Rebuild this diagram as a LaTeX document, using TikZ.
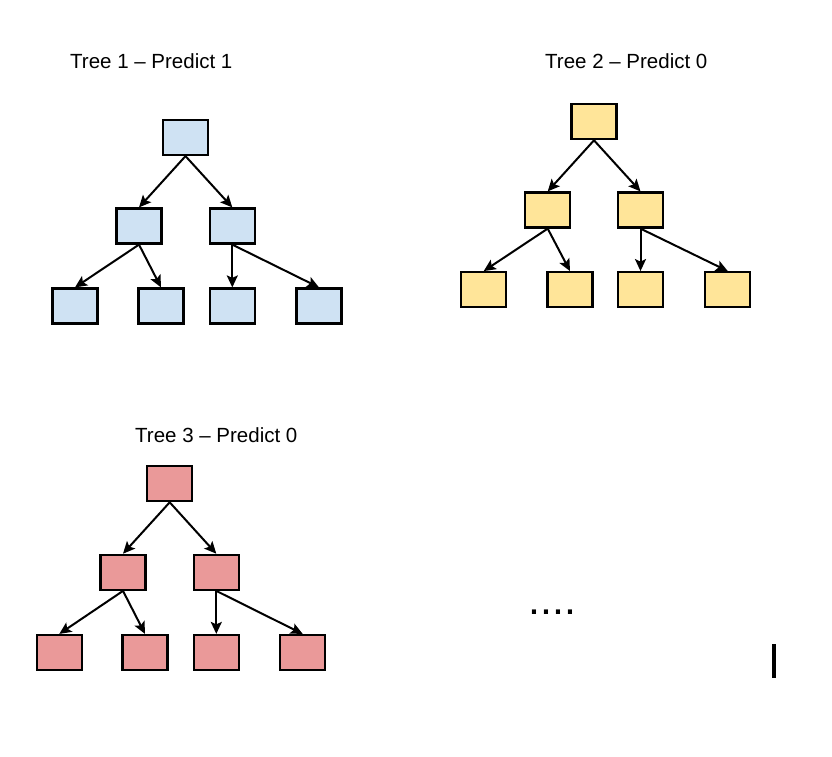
\documentclass[tikz,border=0pt]{standalone}
\usepackage{fontspec}
\setmainfont{Liberation Sans}
\usetikzlibrary{arrows.meta}
\definecolor{treeblue}{HTML}{CFE2F3}
\definecolor{treeyellow}{HTML}{FFE599}
\definecolor{treered}{HTML}{EA9999}
\tikzset{
  treebox/.style={draw=black,line width=2.2pt,minimum width=45pt,minimum height=35pt,inner sep=0pt},
  branch/.style={line width=2pt,-{Stealth[length=12pt,width=11pt,inset=2.5pt]}},
  treetitle/.style={anchor=base west,inner sep=0pt,font=\fontsize{20.5}{24}\selectfont}
}
\begin{document}
\begin{tikzpicture}[x=1pt,y=-1pt]
            \useasboundingbox (0,0) rectangle (832,756);

            \node[treetitle] (t1) at ( 70,  68.3) {Tree 1 – Predict 1};
            \node[treetitle] (t2) at (545,  68.3) {Tree 2 – Predict 0};
            \node[treetitle] (t3) at (135, 442.7) {Tree 3 – Predict 0};

            \node[treebox,fill=treeblue] (a0) at (185.5, 137.5) {};
            \node[treebox,fill=treeblue] (a1) at (139  , 226  ) {};
            \node[treebox,fill=treeblue] (a2) at (232.3, 226  ) {};
            \node[treebox,fill=treeblue] (a3) at ( 75  , 306  ) {};
            \node[treebox,fill=treeblue] (a4) at (161  , 306  ) {};
            \node[treebox,fill=treeblue] (a5) at (232.3, 306  ) {};
            \node[treebox,fill=treeblue] (a6) at (319  , 306  ) {};

            \node[treebox,fill=treeyellow] (b0) at (594  , 121.7) {};
            \node[treebox,fill=treeyellow] (b1) at (547.7, 210  ) {};
            \node[treebox,fill=treeyellow] (b2) at (640.5, 210  ) {};
            \node[treebox,fill=treeyellow] (b3) at (483.7, 289.7) {};
            \node[treebox,fill=treeyellow] (b4) at (570  , 289.7) {};
            \node[treebox,fill=treeyellow] (b5) at (640.5, 289.7) {};
            \node[treebox,fill=treeyellow] (b6) at (727.8, 289.7) {};

            \node[treebox,fill=treered] (c0) at (169.7, 483.7) {};
            \node[treebox,fill=treered] (c1) at (123  , 572.3) {};
            \node[treebox,fill=treered] (c2) at (216.3, 572.3) {};
            \node[treebox,fill=treered] (c3) at ( 59.3, 652.5) {};
            \node[treebox,fill=treered] (c4) at (145  , 652.5) {};
            \node[treebox,fill=treered] (c5) at (216.3, 652.5) {};
            \node[treebox,fill=treered] (c6) at (302.7, 652.5) {};

            \draw[branch] (a0.south)--(a1.north);
            \draw[branch] (a0.south)--(a2.north);
            \draw[branch] (a1.south)--(a3.north);
            \draw[branch] (a1.south)--(a4.north);
            \draw[branch] (a2.south)--(a5.north);
            \draw[branch] (a2.south)--(a6.north);

            \draw[branch] (b0.south)--(b1.north);
            \draw[branch] (b0.south)--(b2.north);
            \draw[branch] (b1.south)--(b3.north);
            \draw[branch] (b1.south)--(b4.north);
            \draw[branch] (b2.south)--(b5.north);
            \draw[branch] (b2.south)--(b6.north);

            \draw[branch] (c0.south)--(c1.north);
            \draw[branch] (c0.south)--(c2.north);
            \draw[branch] (c1.south)--(c3.north);
            \draw[branch] (c1.south)--(c4.north);
            \draw[branch] (c2.south)--(c5.north);
            \draw[branch] (c2.south)--(c6.north);

            \node[anchor=base west,inner sep=0pt,font=\fontsize{43}{50}\selectfont] (more) at (528.3, 614.5) {....};
            \draw[line width=4pt] (774,644)--(774,678);
        \end{tikzpicture}
\end{document}
